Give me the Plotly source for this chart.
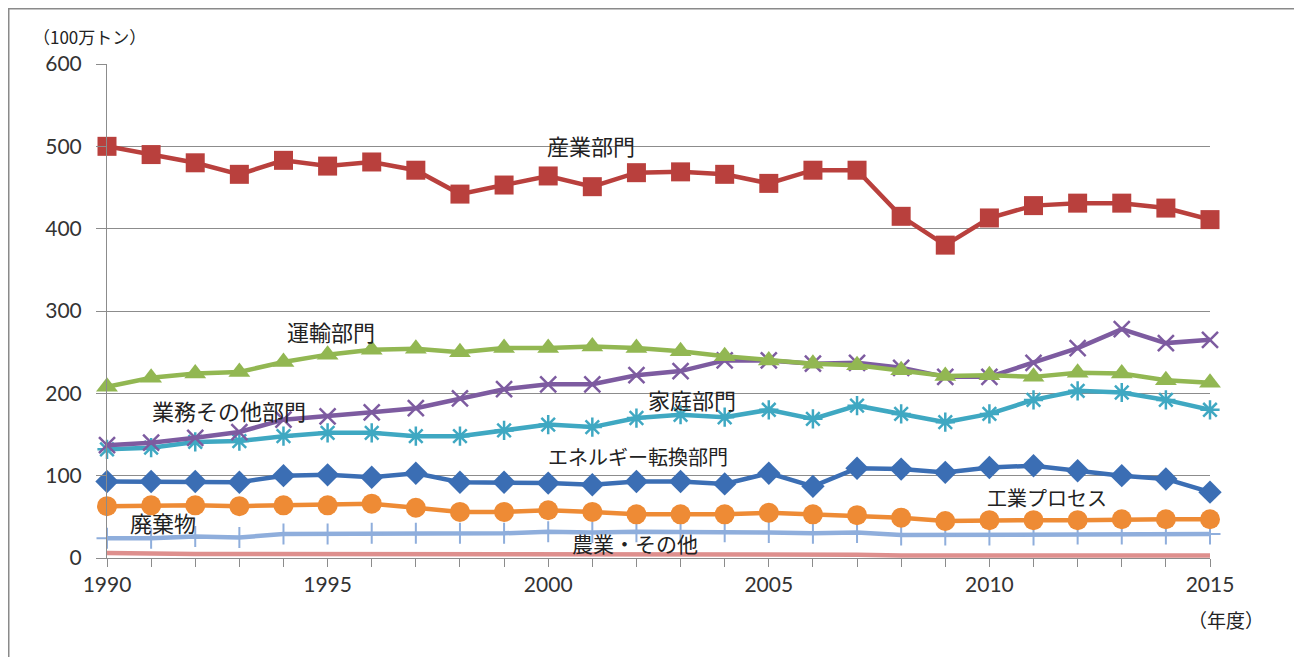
import plotly.graph_objects as go

years = list(range(1990, 2016))

industry = [500, 490, 480, 466, 483, 476, 481, 471, 442, 453, 464, 451, 468, 469, 466, 455,
            471, 471, 415, 380, 413, 428, 431, 431, 425, 411]
transport = [208, 219, 224, 226, 238, 247, 253, 254, 250, 255, 255, 257, 255, 251, 245, 240,
             236, 234, 228, 221, 222, 220, 225, 224, 216, 213]
commercial = [137, 140, 146, 153, 168, 172, 177, 182, 194, 205, 211, 211, 222, 227, 240, 240,
              236, 237, 231, 220, 220, 237, 255, 278, 261, 265]
residential = [132, 134, 141, 142, 148, 152, 152, 148, 148, 155, 162, 159, 170, 174, 171, 180,
               169, 185, 175, 165, 175, 192, 203, 201, 192, 180]
energy = [93, 93, 93, 92, 100, 101, 98, 103, 92, 92, 91, 89, 93, 93, 90, 103,
          87, 109, 108, 104, 110, 112, 106, 100, 96, 80]
process = [63, 64, 64, 63, 64, 64, 66, 61, 56, 56, 58, 56, 53, 53, 53, 55,
           53, 52, 49, 45, 46, 46, 46, 47, 47, 47]
waste = [24, 24, 26, 25, 29, 29, 30, 30, 30, 30, 32, 31, 32, 32, 32, 31,
         30, 31, 28, 28, 28, 28, 29, 29, 29, 29]
agri = [6, 5, 5, 5, 5, 5, 5, 5, 4, 4, 4, 4, 4, 4, 4, 4,
        4, 4, 3, 3, 3, 3, 3, 3, 3, 3]

y_ticks = [0, 100, 200, 300, 400, 500, 600]
x_ticks = [1990, 1995, 2000, 2005, 2010, 2015]

series = [
    ("農業・その他", agri, "#DE8F8D", "line-ns", 6, 0),
    ("廃棄物", waste, "#8FAEDC", "cross-thin", 15, 2),
    ("工業プロセス", process, "#EE8B35", "circle", 20, 0),
    ("エネルギー転換部門", energy, "#3B6EB4", "diamond", 18, 0),
    ("家庭部門", residential, "#3FA8C2", "asterisk", 16, 2.5),
    ("業務その他部門", commercial, "#7D5BA0", "x-thin", 16, 2.5),
    ("運輸部門", transport, "#92B752", "triangle-up", 19, 0),
    ("産業部門", industry, "#B9403D", "square", 19, 0),
]

fig = go.Figure()
for name, vals, color, sym, size, lw in series:
    marker = dict(symbol=sym, size=size, color=color)
    if lw:
        marker["line"] = dict(color=color, width=lw)
    fig.add_trace(go.Scatter(
        x=years, y=vals, name=name, mode="lines+markers",
        line=dict(color=color, width=4.5), marker=marker, showlegend=False,
        cliponaxis=False,
    ))

jp = "Noto Sans CJK JP"
labels = [
    ("産業部門", 2000.97, 502, 22),
    ("運輸部門", 1995.08, 276, 22),
    ("業務その他部門", 1992.77, 180, 22),
    ("家庭部門", 2003.26, 193, 22),
    ("エネルギー転換部門", 2002.04, 123, 20),
    ("工業プロセス", 2011.3, 73, 20),
    ("廃棄物", 1991.27, 44, 22),
    ("農業・その他", 2001.97, 18, 21),
]
for txt, x, y, fs in labels:
    fig.add_annotation(x=x, y=y, text=txt, showarrow=False,
                       font=dict(family=jp, size=fs, color="#222"))

# figure is placed 8px from the page corner; plot area 1103 x 494
L, T, PW, PH = 99, 56, 1103, 494
W, H = 1294, 649

fig.add_annotation(xref="paper", yref="paper", x=(31 - 107) / PW, y=(558 - 37) / PH,
                   xanchor="left", yanchor="middle", text="（100万トン）", showarrow=False,
                   font=dict(family=jp, size=17, color="#222"))
fig.add_annotation(xref="paper", yref="paper", x=(1266 - 107) / PW, y=(558 - 619) / PH,
                   xanchor="right", yanchor="middle", text="（年度）", showarrow=False,
                   font=dict(family=jp, size=19, color="#222"))

# outer frame (top and left edges visible)
fig.add_shape(type="rect", xref="paper", yref="paper",
              x0=(0.5 - L) / PW, x1=(W + 20 - L) / PW,
              y0=-(H - T - PH + 20) / PH, y1=1 + (T - 0.5) / PH,
              line=dict(color="#8a8a8a", width=2), layer="below")

fig.update_layout(
    width=W, height=H,
    margin=dict(l=L, r=W - L - PW, t=T, b=H - T - PH),
    paper_bgcolor="white", plot_bgcolor="white",
    font=dict(family="Lato", size=21, color="#333"),
)
fig.update_xaxes(
    range=[1990, 2015], tickvals=x_ticks, ticktext=[str(v) for v in x_ticks],
    showgrid=False, zeroline=False, showline=True, linecolor="#8c8c8c", linewidth=1,
    ticks="outside", ticklen=8, tickcolor="#8c8c8c",
    minor=dict(dtick=1, tick0=1990, ticks="outside", ticklen=8, tickcolor="#8c8c8c", showgrid=False),
    tickfont=dict(family="Lato", size=21, color="#333"),
)
fig.update_yaxes(
    range=[0, 600], tickvals=y_ticks,
    showgrid=True, gridcolor="#8c8c8c", gridwidth=1, zeroline=False,
    showline=True, linecolor="#8c8c8c", linewidth=1,
    ticks="outside", ticklen=10, tickcolor="#8c8c8c", ticklabelstandoff=10,
    tickfont=dict(family="Lato", size=21, color="#333"),
)

fig.write_html("out.html")
